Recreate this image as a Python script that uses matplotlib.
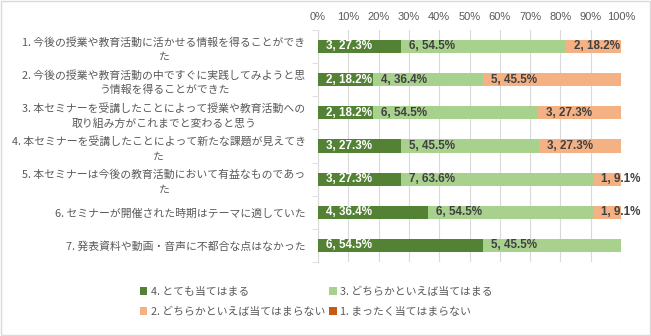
import matplotlib
matplotlib.use("Agg")
import matplotlib.pyplot as plt
from matplotlib.patches import Rectangle

plt.rcParams['font.family'] = ['Noto Sans CJK JP', 'DejaVu Sans']

# data
questions = [
    "1. 今後の授業や教育活動に活かせる情報を得ることができ\nた",
    "2. 今後の授業や教育活動の中ですぐに実践してみようと思\nう情報を得ることができた",
    "3. 本セミナーを受講したことによって授業や教育活動への\n取り組み方がこれまでと変わると思う",
    "4. 本セミナーを受講したことによって新たな課題が見えてき\nた",
    "5. 本セミナーは今後の教育活動において有益なものであっ\nた",
    "6. セミナーが開催された時期はテーマに適していた",
    "7. 発表資料や動画・音声に不都合な点はなかった",
]
series_names = ["4. とても当てはまる", "3. どちらかといえば当てはまる",
                "2. どちらかといえば当てはまらない", "1. まったく当てはまらない"]
counts_4 = [3, 2, 2, 3, 3, 4, 6]
counts_3 = [6, 4, 6, 5, 7, 6, 5]
counts_2 = [2, 5, 3, 3, 1, 1, 0]
counts_1 = [0, 0, 0, 0, 0, 0, 0]
pct_4 = [27.3, 18.2, 18.2, 27.3, 27.3, 36.4, 54.5]
pct_3 = [54.5, 36.4, 54.5, 45.5, 63.6, 54.5, 45.5]
pct_2 = [18.2, 45.5, 27.3, 27.3, 9.1, 9.1, 0]
pct_1 = [0, 0, 0, 0, 0, 0, 0]
ticks = [0, 10, 20, 30, 40, 50, 60, 70, 80, 90, 100]

colors = ["#548235", "#A9D18E", "#F4B183", "#C55A11"]
label_colors = ["white", "#404040", "#404040", "#404040"]

fig = plt.figure(figsize=(6.51, 3.36), dpi=100)
fig.patches.append(Rectangle((0.001, 0.002), 0.997, 0.995, transform=fig.transFigure,
                             fill=False, edgecolor="#D9D9D9", linewidth=1))
ax = fig.add_axes([0.4885, 0.22, 0.4655, 0.691])

y = list(range(len(questions)))
counts = [counts_4, counts_3, counts_2, counts_1]
pcts = [pct_4, pct_3, pct_2, pct_1]
left = [0.0] * len(questions)
for s in range(4):
    ax.barh(y, pcts[s], left=left, height=0.4, color=colors[s],
            label=series_names[s], zorder=3)
    for i in y:
        if counts[s][i] > 0:
            ax.annotate(f"{counts[s][i]}, {pcts[s][i]}%", (left[i], i),
                        xytext=(8, 0), textcoords="offset pixels",
                        ha="left", va="center", fontsize=8.4, fontweight="bold",
                        color=label_colors[s], family=["Liberation Sans"], zorder=4)
    left = [left[i] + pcts[s][i] for i in y]

ax.set_xlim(0, 100)
ax.set_ylim(len(questions) - 0.5, -0.5)
ax.set_xticks(ticks)
ax.set_xticklabels([f"{t}%" for t in ticks], fontsize=8, color="#595959",
                   family=["Liberation Sans"])
ax.xaxis.tick_top()
ax.tick_params(axis="x", length=0, pad=6)
ax.grid(axis="x", color="#D9D9D9", linewidth=0.8, zorder=0)

ax.set_yticks(y)
ax.set_yticklabels(questions, fontsize=7.8, color="#595959", multialignment="center",
                   linespacing=1.5)
ax.tick_params(axis="y", length=0, pad=9)
ax.set_yticks([i + 0.5 for i in range(-1, len(questions))], minor=True)
ax.tick_params(axis="y", which="minor", length=4, color="#D9D9D9")

for side in ["top", "right", "bottom"]:
    ax.spines[side].set_visible(False)
ax.spines["left"].set_color("#D9D9D9")

h, l = ax.get_legend_handles_labels()
order = [0, 2, 1, 3]
fig.legend([h[k] for k in order], [l[k] for k in order], ncol=2,
           loc="center", bbox_to_anchor=(0.486, 0.102), frameon=False,
           fontsize=7.8, labelcolor="#595959", handlelength=0.7, handleheight=0.7,
           handletextpad=0.3, columnspacing=0.4, labelspacing=0.9)

fig.savefig("out.png", dpi=100)
